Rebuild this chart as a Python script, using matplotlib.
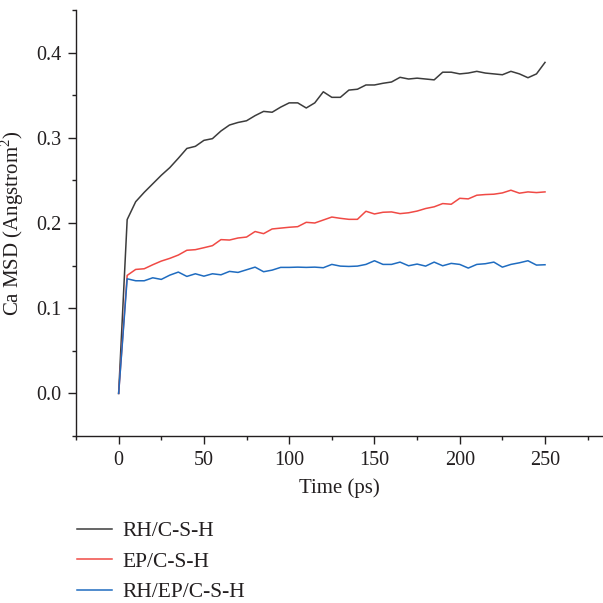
import numpy as np
import matplotlib
matplotlib.use("Agg")
import matplotlib.pyplot as plt
from matplotlib.ticker import MultipleLocator, FormatStrFormatter

time_ps = list(range(0, 255, 5))

rh_csh = [0.0, 0.204, 0.225, 0.236, 0.246, 0.256, 0.265, 0.276, 0.2875, 0.290,
          0.297, 0.299, 0.308, 0.315, 0.318, 0.320, 0.326, 0.331, 0.330, 0.336,
          0.341, 0.341, 0.335, 0.341, 0.354, 0.3475, 0.3475, 0.356, 0.357, 0.362,
          0.362, 0.364, 0.3655, 0.371, 0.369, 0.370, 0.369, 0.368, 0.377, 0.377,
          0.375, 0.376, 0.378, 0.376, 0.375, 0.374, 0.378, 0.375, 0.3705, 0.375,
          0.3885]

ep_csh = [0.0, 0.1385, 0.1455, 0.1463, 0.151, 0.1553, 0.1585, 0.1624, 0.168, 0.1687,
          0.171, 0.1734, 0.1805, 0.180, 0.1824, 0.1835, 0.190, 0.1875, 0.193, 0.194,
          0.195, 0.1957, 0.2008, 0.200, 0.2035, 0.207, 0.2055, 0.2043, 0.2043, 0.2138,
          0.2106, 0.2126, 0.213, 0.211, 0.212, 0.214, 0.217, 0.219, 0.2228, 0.222,
          0.229, 0.2283, 0.2326, 0.2334, 0.2338, 0.2353, 0.2385, 0.235, 0.2365, 0.2357,
          0.2365]

rh_ep_csh = [0.0, 0.1345, 0.1322, 0.1322, 0.1357, 0.1338, 0.1388, 0.1424, 0.1373, 0.1404,
             0.1376, 0.1404, 0.1392, 0.1432, 0.142, 0.1451, 0.1482, 0.1428, 0.1447, 0.1479,
             0.1479, 0.1482, 0.1479, 0.1482, 0.1475, 0.1514, 0.1494, 0.149, 0.1494, 0.1514,
             0.1557, 0.1514, 0.1514, 0.1541, 0.1498, 0.1518, 0.1494, 0.1541, 0.1498, 0.1526,
             0.1514, 0.1471, 0.1514, 0.1522, 0.1541, 0.1482, 0.1514, 0.1533, 0.1557, 0.1506,
             0.151]

labels = ["RH/C-S-H", "EP/C-S-H", "RH/EP/C-S-H"]
colors = ["#3c3c3c", "#f04a45", "#1f6cc0"]

plt.rcParams["font.family"] = ["Liberation Serif", "DejaVu Serif"]
plt.rcParams["mathtext.fontset"] = "custom"
plt.rcParams["mathtext.rm"] = "Liberation Serif"
text_color = "#231f20"

fig = plt.figure(figsize=(6.03, 6.03), dpi=100)
ax = fig.add_axes([76/603, 1-436/603, 1-76/603, (436-10)/603])

for y, lab, c in zip([rh_csh, ep_csh, rh_ep_csh], labels, colors):
    ax.plot(time_ps, y, color=c, lw=1.1, label=lab)

ax.set_xlim(-25, 284)
ax.set_ylim(-0.05, 0.45)
ax.xaxis.set_major_locator(MultipleLocator(50))
ax.xaxis.set_minor_locator(MultipleLocator(25))
ax.yaxis.set_major_locator(MultipleLocator(0.1))
ax.yaxis.set_minor_locator(MultipleLocator(0.05))
ax.yaxis.set_major_formatter(FormatStrFormatter("%.1f"))
for s in ["top", "right"]:
    ax.spines[s].set_visible(False)
for s in ["left", "bottom"]:
    ax.spines[s].set_color(text_color)
    ax.spines[s].set_linewidth(1.0)
ax.tick_params(which="major", direction="out", length=5.5, width=1.0,
               labelsize=14.5, colors=text_color, pad=5)
ax.tick_params(which="minor", direction="out", length=3, width=1.0, colors=text_color)

ax.set_xlabel("Time (ps)", fontsize=15, color=text_color, labelpad=6)
ax.set_ylabel("Ca MSD (Angstrom$^2$)", fontsize=15, color=text_color, labelpad=7)

fig.legend(loc="upper left", bbox_to_anchor=(77/603, 1-521/603), frameon=False,
           fontsize=15.5, handlelength=1.63, handletextpad=0.5, labelspacing=0.49,
           borderpad=0, borderaxespad=0, labelcolor=text_color)

fig.savefig("out.png", dpi=100)
